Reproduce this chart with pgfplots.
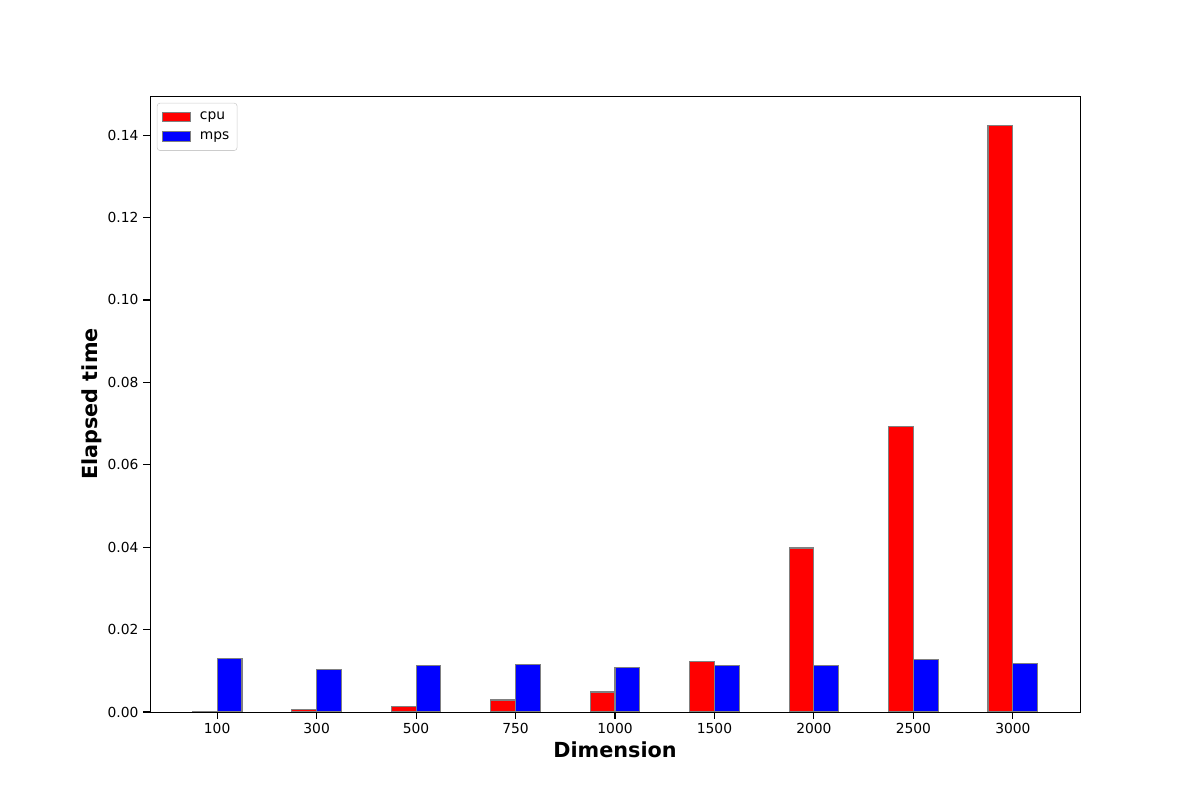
\documentclass[border=0pt]{standalone}
\usepackage{pgfplots}
\pgfplotsset{compat=1.18}
\usepackage{fontspec}
\setmainfont{DejaVu Sans}
\definecolor{edgegray}{HTML}{808080}
\definecolor{legframe}{HTML}{CCCCCC}
\begin{document}
\begin{tikzpicture}
\path (0,0) rectangle (12in,8in);
\begin{axis}[
  at={(1.5in,0.88in)}, anchor=south west,
  scale only axis,
  width=9.3in, height=6.16in,
  xmin=-0.675, xmax=8.675,
  ymin=0, ymax=0.1495,
  xtick={0,1,2,3,4,5,6,7,8},
  xticklabels={100,300,500,750,1000,1500,2000,2500,3000},
  ytick={0,0.02,0.04,0.06,0.08,0.10,0.12,0.14},
  yticklabel style={/pgf/number format/.cd, fixed, fixed zerofill, precision=2},
  /pgf/number format/assume math mode=true,
  scaled y ticks=false,
  tick align=outside,
  xtick pos=bottom, ytick pos=left,
  major tick length=4.86pt,
  tick style={line width=0.8pt, black},
  axis line style={line width=0.7pt},
  ticklabel style={font=\fontsize{10}{12}\selectfont},
  xlabel={Dimension}, ylabel={Elapsed time},
  xlabel style={at={(axis description cs:0.5,-0.0617)}, anchor=center, font=\fontsize{15}{18}\selectfont\bfseries},
  ylabel style={at={(axis description cs:-0.0624,0.5)}, anchor=center, rotate=0, font=\fontsize{15}{18}\selectfont\bfseries},
  ybar, bar width=0.25,
  legend style={at={(0,1)}, anchor=north west, xshift=5pt, yshift=-5pt,
    draw=legframe, rounded corners=2pt, font=\fontsize{10}{12}\selectfont,
    row sep=3pt, inner xsep=3.5pt, inner ysep=4.5pt},
  legend cell align=left,
  legend image code/.code={\draw[#1, sharp corners, line width=0.8pt] (0pt,-3.5pt) rectangle (20pt,3.5pt); \path[draw=none, fill=none] (0pt,0pt) -- (25pt,0pt);},
]
\addplot[fill=red, draw=edgegray, line width=0.8pt, bar shift=-0.125] coordinates {
(0,0.0002) (1,0.0005) (2,0.0014) (3,0.0029) (4,0.00485) (5,0.0123) (6,0.0398) (7,0.0692) (8,0.1424)};
\addlegendentry{cpu}
\addplot[fill=blue, draw=edgegray, line width=0.8pt, bar shift=0.125] coordinates {
(0,0.0130) (1,0.0104) (2,0.0113) (3,0.0116) (4,0.0108) (5,0.0112) (6,0.0112) (7,0.0128) (8,0.0118)};
\addlegendentry{mps}
\end{axis}
\end{tikzpicture}
\end{document}
